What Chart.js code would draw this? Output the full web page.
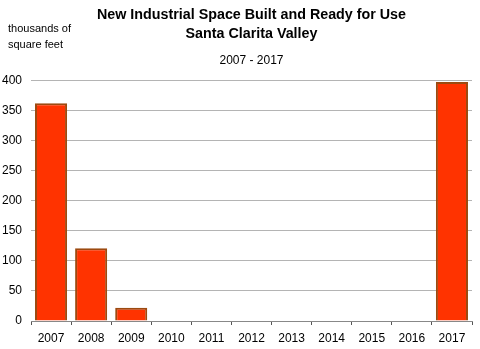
<!DOCTYPE html>
<html>
<head>
<meta charset="utf-8">
<script src="https://cdn.jsdelivr.net/npm/chart.js@4"></script>
<style>
  html, body { margin: 0; padding: 0; background: #fff; }
  #wrap { width: 480px; height: 349px; }
</style>
</head>
<body>
<div id="wrap"><canvas id="chart"></canvas></div>
<script>
const years = ['2007', '2008', '2009', '2010', '2011', '2012', '2013', '2014', '2015', '2016', '2017'];
const spaceBuilt = [362, 121, 22, 0, 0, 0, 0, 0, 0, 0, 397];
const yTicks = [0, 50, 100, 150, 200, 250, 300, 350, 400];

const FONT = '"Liberation Sans", Arial, sans-serif';

// units label sits in the top-left corner, above the y axis
const unitsLabel = {
    id: 'unitsLabel',
    afterDraw(chart) {
        const ctx = chart.ctx;
        ctx.save();
        ctx.font = '11px ' + FONT;
        ctx.fillStyle = '#000';
        ctx.textBaseline = 'middle';
        ctx.fillText('thousands of', 8, 29);
        ctx.fillText('square feet', 8, 45);
        ctx.restore();
    }
};

new Chart(document.getElementById('chart'), {
    type: 'bar',
    data: {
        labels: years,
        datasets: [{
            data: spaceBuilt,
            backgroundColor: '#ff3300',
            borderColor: '#9c4a10',
            borderWidth: 2,
            categoryPercentage: 0.8,
            barPercentage: 1.0
        }]
    },
    options: {
        responsive: true,
        maintainAspectRatio: false,
        animation: false,
        layout: { padding: { left: 1, right: 8, top: 0, bottom: 0 } },
        plugins: {
            legend: { display: false },
            tooltip: { enabled: false },
            title: {
                display: true,
                fullSize: false,
                text: ['New Industrial Space Built and Ready for Use', 'Santa Clarita Valley'],
                color: '#000',
                font: { family: FONT, size: 14.3, weight: 'bold', lineHeight: 1.36 },
                padding: { top: 5, bottom: 10 }
            },
            subtitle: {
                display: true,
                fullSize: false,
                text: '2007 - 2017',
                color: '#000',
                font: { family: FONT, size: 12 },
                padding: { top: 0, bottom: 12 }
            }
        },
        scales: {
            x: {
                afterFit(axis) { axis.height = 28; },
                grid: { display: true, drawOnChartArea: false, drawTicks: true, tickLength: 4, color: '#555', offset: true },
                border: { display: true, color: '#888', width: 1 },
                ticks: { color: '#000', font: { family: FONT, size: 12 }, padding: 6, maxRotation: 0 }
            },
            y: {
                min: 0,
                max: 400,
                afterBuildTicks(axis) { axis.ticks = yTicks.map(v => ({ value: v })); },
                afterFit(axis) { axis.width = 30; },
                grid: { color: '#b4b4b4', drawTicks: false },
                border: { display: false },
                ticks: { color: '#000', font: { family: FONT, size: 12 }, padding: 9 }
            }
        }
    },
    plugins: [unitsLabel]
});
</script>
</body>
</html>
